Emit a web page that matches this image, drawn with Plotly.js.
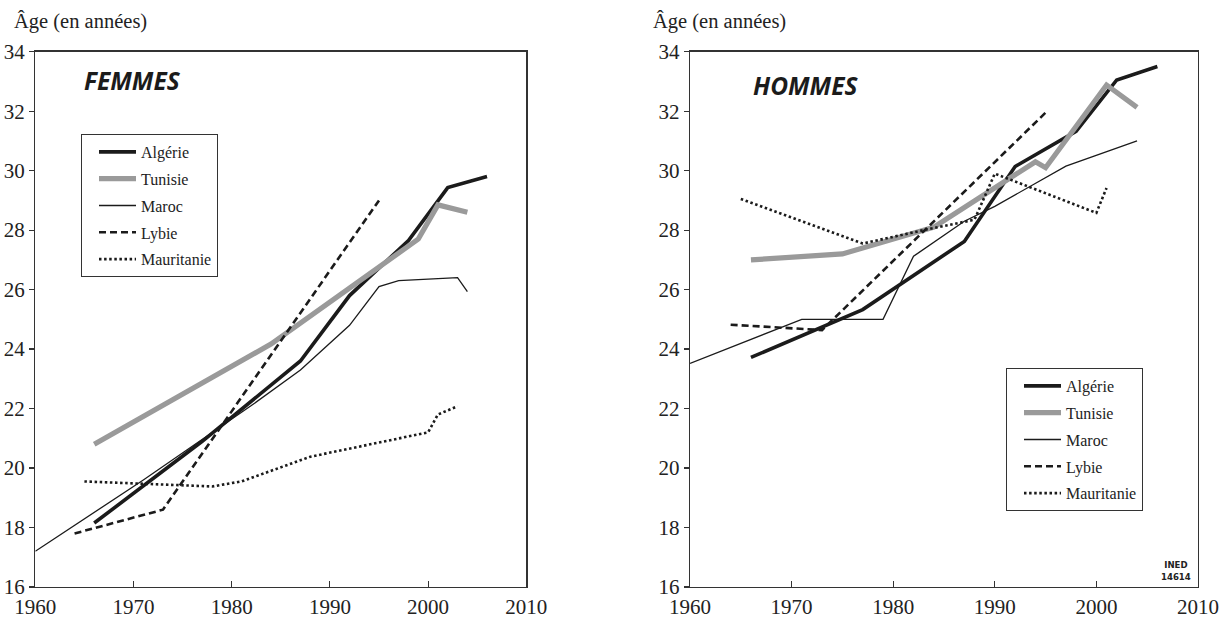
<!DOCTYPE html>
<html>
<head>
<meta charset="utf-8">
<script src="https://cdn.plot.ly/plotly-3.0.1.min.js"></script>
<style>
  html, body { margin: 0; padding: 0; background: #fff; }
  #chart { width: 1221px; height: 617px; }
</style>
</head>
<body>
<div id="chart"></div>
<script>
// ---------- Data ----------
var countries = ["Algérie", "Tunisie", "Maroc", "Lybie", "Mauritanie"];
var panelTitles = ["FEMMES", "HOMMES"];
var xTickVals = [1960, 1970, 1980, 1990, 2000, 2010];
var yTickVals = [16, 18, 20, 22, 24, 26, 28, 30, 32, 34];
var yAxisTitle = "Âge (en années)";
var sourceNote = "INED<br>14614";

// FEMMES
var femAlgerieYears = [1966, 1977, 1987, 1992, 1998, 2002, 2006];
var femAlgerieAge   = [18.15, 20.9, 23.6, 25.8, 27.65, 29.43, 29.8];
var femTunisieYears = [1966, 1984, 1999, 2001, 2004];
var femTunisieAge   = [20.8, 24.17, 27.7, 28.85, 28.6];
var femMarocYears   = [1960, 1971, 1982, 1987, 1992, 1995, 1997, 2003, 2004];
var femMarocAge     = [17.2, 19.6, 22.1, 23.3, 24.8, 26.1, 26.3, 26.4, 25.93];
var femLybieYears   = [1964, 1973, 1995];
var femLybieAge     = [17.8, 18.6, 29.0];
var femMauritYears  = [1965, 1978, 1981, 1988, 2000, 2001, 2003];
var femMauritAge    = [19.55, 19.38, 19.55, 20.38, 21.2, 21.8, 22.08];

// HOMMES
var homAlgerieYears = [1966, 1977, 1987, 1992, 1998, 2002, 2006];
var homAlgerieAge   = [23.72, 25.33, 27.62, 30.14, 31.32, 33.05, 33.5];
var homTunisieYears = [1966, 1975, 1984, 1994, 1995, 2001, 2004];
var homTunisieAge   = [27.0, 27.2, 28.1, 30.3, 30.1, 32.88, 32.13];
var homMarocYears   = [1960, 1971, 1979, 1982, 1987, 1990, 1997, 2004];
var homMarocAge     = [23.52, 25.0, 25.0, 27.12, 28.3, 28.8, 30.15, 31.0];
var homLybieYears   = [1964, 1973, 1995];
var homLybieAge     = [24.82, 24.64, 31.95];
var homMauritYears  = [1965, 1977, 1983, 1988, 1990, 2000, 2001];
var homMauritAge    = [29.05, 27.55, 28.0, 28.35, 29.9, 28.58, 29.42];

// ---------- Styles ----------
var styles = [
  {color: "#1b1b1b", width: 3.6, dash: "solid"},
  {color: "#9a9a9a", width: 5.2, dash: "solid"},
  {color: "#1b1b1b", width: 1.3, dash: "solid"},
  {color: "#1b1b1b", width: 2.6, dash: "7px,4px"},
  {color: "#1b1b1b", width: 2.6, dash: "2.5px,2.6px"}
];

var femSeries = [
  [femAlgerieYears, femAlgerieAge],
  [femTunisieYears, femTunisieAge],
  [femMarocYears, femMarocAge],
  [femLybieYears, femLybieAge],
  [femMauritYears, femMauritAge]
];
var homSeries = [
  [homAlgerieYears, homAlgerieAge],
  [homTunisieYears, homTunisieAge],
  [homMarocYears, homMarocAge],
  [homLybieYears, homLybieAge],
  [homMauritYears, homMauritAge]
];

var traces = [];
function addPanel(series, xa, ya, legendName, prefix) {
  series.forEach(function (s, i) {
    traces.push({
      type: "scatter",
      mode: "lines",
      x: s[0],
      y: s[1],
      name: countries[i],
      xaxis: xa,
      yaxis: ya,
      legend: legendName,
      legendgroup: prefix + i,
      line: {color: styles[i].color, width: styles[i].width, dash: styles[i].dash},
      hoverinfo: "x+y+name"
    });
  });
}
addPanel(femSeries, "x", "y", "legend", "f");
addPanel(homSeries, "x2", "y2", "legend2", "h");

var W = 1221, H = 617;
var yDom = [(H - 587) / H, (H - 51.7) / H];
var serif = "Liberation Serif, Times New Roman, serif";

function xAxis(domain, anchor) {
  return {
    domain: domain, anchor: anchor,
    range: [1960, 2010], tickvals: xTickVals,
    ticks: "inside", ticklen: 6, tickwidth: 1.2, tickcolor: "#333",
    showline: true, mirror: true, linecolor: "#333", linewidth: 1.3,
    showgrid: false, zeroline: false,
    tickfont: {family: serif, size: 21, color: "#222"}, fixedrange: true
  };
}
function yAxis(anchor) {
  return {
    domain: yDom, anchor: anchor,
    range: [16, 34], tickvals: yTickVals,
    ticks: "outside", ticklen: 5, tickwidth: 1.2, tickcolor: "#333",
    showline: true, mirror: true, linecolor: "#333", linewidth: 1.3,
    showgrid: false, zeroline: false,
    tickfont: {family: serif, size: 21, color: "#222"}, fixedrange: true
  };
}

function legendOpts(x, y) {
  return {
    x: x, y: y,
    xanchor: "left", yanchor: "top",
    bgcolor: "#fff", bordercolor: "#333", borderwidth: 1,
    font: {family: serif, size: 16, color: "#222"},
    traceorder: "grouped", tracegroupgap: 3,
    itemwidth: 37, indentation: 12
  };
}

var layout = {
  width: W, height: H,
  margin: {l: 0, r: 0, t: 0, b: 0},
  font: {family: serif, size: 16, color: "#222"},
  paper_bgcolor: "#fff", plot_bgcolor: "#fff",
  showlegend: true,
  xaxis: xAxis([35.3 / W, 526.3 / W], "y"),
  yaxis: yAxis("x"),
  xaxis2: xAxis([690 / W, 1198 / W], "y2"),
  yaxis2: yAxis("x2"),
  legend: legendOpts(81 / W, 1 - 134 / H),
  legend2: legendOpts(1006 / W, 1 - 368 / H),
  annotations: [
    {text: yAxisTitle, xref: "paper", yref: "paper", x: 12 / W, y: 1 - 22 / H,
     xanchor: "left", yanchor: "middle", showarrow: false,
     font: {family: serif, size: 20.5, color: "#222"}},
    {text: yAxisTitle, xref: "paper", yref: "paper", x: 651 / W, y: 1 - 22 / H,
     xanchor: "left", yanchor: "middle", showarrow: false,
     font: {family: serif, size: 20.5, color: "#222"}},
    {text: "<b><i>" + panelTitles[0] + "</i></b>", xref: "paper", yref: "paper", x: 82 / W, y: 1 - 81 / H,
     xanchor: "left", yanchor: "middle", showarrow: false,
     font: {family: "Open Sans, Noto Sans, sans-serif", size: 24.5, color: "#1b1b1b"}},
    {text: "<b><i>" + panelTitles[1] + "</i></b>", xref: "paper", yref: "paper", x: 751 / W, y: 1 - 85 / H,
     xanchor: "left", yanchor: "middle", showarrow: false,
     font: {family: "Open Sans, Noto Sans, sans-serif", size: 24.5, color: "#1b1b1b"}},
    {text: "<b>" + sourceNote + "</b>", xref: "paper", yref: "paper", x: 1193 / W, y: 1 - 570 / H,
     xanchor: "right", yanchor: "middle", align: "center", showarrow: false,
     font: {family: "DejaVu Sans Condensed, DejaVu Sans, sans-serif", size: 9.5, color: "#222"}}
  ]
};

Plotly.newPlot("chart", traces, layout, {displayModeBar: false, staticPlot: true});
</script>
</body>
</html>
